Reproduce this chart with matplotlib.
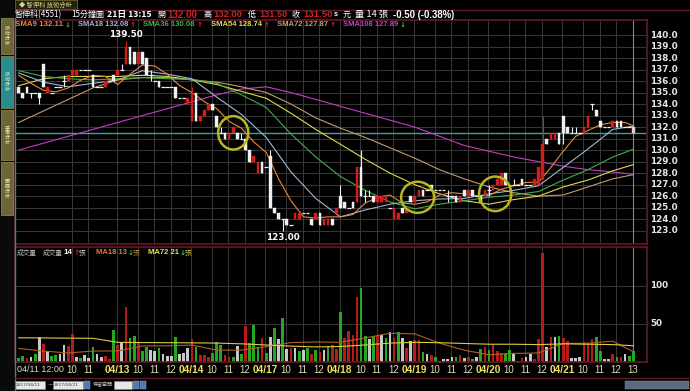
import matplotlib
matplotlib.use("Agg")
import matplotlib.pyplot as plt
from matplotlib.patches import Ellipse, Rectangle
import numpy as np

# ---------------- data ----------------
opens = [135.5,135.0,135.5,135.0,135.0,135.0,137.5,135.0,135.0,135.5,135.5,136.0,136.0,136.5,136.5,137.0,137.0,137.0,136.5,135.5,
         135.5,135.5,136.0,136.5,136.5,137.0,137.5,139.0,138.5,137.5,138.5,138.0,136.5,136.0,136.0,135.5,135.5,135.5,135.5,134.5,
         134.5,134.0,132.5,135.0,132.5,133.0,133.5,134.0,133.0,131.5,131.5,131.0,131.5,131.5,131.0,131.0,130.0,129.0,128.0,129.0,
         128.5,129.5,125.0,124.5,124.0,124.0,123.5,124.0,124.0,124.5,124.5,124.0,124.0,124.5,123.5,123.5,124.0,124.5,126.0,125.5,
         125.0,125.5,125.5,128.5,126.0,126.0,126.0,125.5,125.5,125.5,125.0,124.0,124.0,125.0,124.5,126.0,125.5,126.0,126.5,126.5,
         127.0,126.5,126.5,126.5,126.0,126.0,126.0,125.5,126.5,126.0,126.5,126.0,126.0,126.0,126.5,126.5,127.0,127.0,128.0,127.0,
         127.0,127.0,127.5,127.0,127.0,127.0,127.0,127.5,131.0,131.0,131.0,131.5,133.0,132.0,131.5,131.5,131.5,131.5,132.0,134.0,
         133.5,132.5,132.0,132.0,132.0,132.5,132.5,132.0,132.0,132.0]
highs = [135.5,135.0,135.5,135.0,135.0,135.0,137.5,135.5,135.0,135.5,135.5,136.5,136.5,137.0,137.0,137.0,137.0,137.0,136.5,135.5,
         135.5,136.0,136.0,136.5,137.0,137.5,139.5,139.0,138.5,138.5,138.5,138.0,137.0,136.0,136.0,135.5,135.5,135.5,135.5,134.5,
         134.5,134.5,135.5,135.0,133.0,133.5,134.0,134.0,133.0,132.0,131.5,131.5,132.0,131.5,131.5,131.0,130.0,129.5,129.0,129.0,
         128.5,130.0,125.0,124.5,124.0,124.0,123.5,124.5,124.5,124.5,124.5,124.0,124.5,124.5,124.0,124.0,124.0,125.0,127.0,125.5,
         125.0,125.5,128.5,130.0,126.5,126.5,126.0,126.0,126.0,126.0,125.0,125.0,124.5,125.0,125.0,126.0,126.0,126.5,126.5,126.5,
         127.0,126.5,126.5,126.5,126.5,126.0,126.0,126.0,126.5,126.5,126.5,126.0,126.0,126.5,127.0,127.0,127.5,128.0,128.0,127.0,
         127.5,127.0,127.5,127.0,127.0,127.5,128.5,133.0,131.0,131.5,131.5,131.5,133.0,132.0,132.0,132.0,131.5,132.0,133.0,134.0,
         133.5,132.5,132.0,132.0,132.5,132.5,132.5,132.0,132.0,132.0]
lows = [135.0,134.5,135.0,134.5,135.0,134.0,135.5,135.0,135.0,135.5,135.5,135.5,136.0,136.5,136.5,137.0,137.0,137.0,135.5,135.5,
        135.5,135.5,136.0,136.0,136.5,137.0,137.5,137.5,137.5,137.5,137.5,136.5,136.0,136.0,135.5,135.5,135.5,135.5,134.5,134.5,
        134.5,134.0,132.5,132.5,132.5,133.0,133.5,133.5,132.0,131.5,131.0,131.0,131.5,131.0,131.0,130.0,129.0,129.0,128.0,128.0,
        128.5,125.0,124.5,124.0,123.0,123.5,123.5,124.0,124.0,124.5,124.5,123.5,124.0,123.5,123.5,123.5,123.5,124.5,125.0,125.0,
        125.0,125.0,125.5,126.0,125.5,126.0,125.5,125.5,125.5,125.5,125.0,124.0,124.0,124.5,124.5,125.5,125.5,126.0,126.0,126.5,
        126.5,126.5,126.5,126.5,125.5,126.0,125.5,125.5,126.0,126.0,126.0,126.0,125.5,126.0,126.0,126.5,127.0,127.0,127.0,127.0,
        127.0,127.0,127.0,127.0,127.0,127.0,127.0,127.5,130.5,131.0,131.0,130.5,130.5,131.5,131.5,131.5,131.5,131.5,132.0,133.5,
        133.0,132.0,132.0,132.0,132.0,132.0,132.0,132.0,132.0,131.5]
closes = [135.0,134.5,135.0,135.0,135.0,134.5,135.5,135.5,135.0,135.5,135.5,136.0,136.5,137.0,137.0,137.0,137.0,137.0,135.5,135.5,
          135.5,136.0,136.0,136.0,137.0,137.0,139.0,137.5,137.5,138.5,137.5,136.5,136.5,136.0,135.5,135.5,135.5,135.5,134.5,134.5,
          134.5,134.5,135.0,132.5,133.0,133.5,134.0,133.5,132.0,131.5,131.0,131.5,132.0,131.0,131.0,130.0,129.0,129.5,129.0,128.0,
          128.5,125.0,124.5,124.0,124.0,123.5,123.5,124.5,124.5,124.5,124.5,123.5,124.5,123.5,124.0,124.0,123.5,125.0,125.0,125.0,
          125.0,125.0,128.5,126.0,126.0,126.0,125.5,126.0,126.0,126.0,125.0,125.0,124.5,124.5,125.0,125.5,126.0,126.5,126.0,126.5,
          126.5,126.5,126.5,126.5,126.0,126.0,125.5,126.0,126.0,126.5,126.0,126.0,125.5,126.5,126.5,127.0,127.5,128.0,127.0,127.0,
          127.0,127.0,127.0,127.0,127.0,127.5,128.5,130.5,130.5,131.5,131.5,130.5,131.5,131.5,131.5,131.5,131.5,132.0,133.0,134.0,
          133.0,132.0,132.0,132.0,132.5,132.0,132.0,132.0,132.0,131.5]

volumes = [4.4,7.5,5,6.6,10,32,22.8,14.5,7.5,8.8,10,22,20.6,36,6.6,4.4,8.8,4.4,19.7,10,
           6.6,7.5,3,41.7,22,25.4,72,30.7,33.8,25,14.5,18.9,15.4,14,17.5,10,7.5,7.5,32,10,
           11,18.4,29.8,19.7,8.8,8.8,6.6,11,26.3,22,8.8,6.6,6.6,20.6,10,47,24,47.8,18.9,30.7,
           11,32,45,29.4,57,16.2,17.5,17.5,14,15.4,18.4,10,15.4,13,15.4,19.7,21.5,16.7,65.8,30.7,
           40,35,85.5,96.5,33.8,29.4,33.8,33.8,34.6,31.6,39,31.6,39,30.7,17.5,27.2,28.5,28.5,12.3,10,
           8.8,5.7,1,3.5,3.5,5.7,6.6,8.8,4.4,5.7,3.5,5.7,16.7,18.9,15.4,22.8,14,11.8,11.8,15.4,
           11.8,1,4.4,6.6,10,3.5,29.4,142.5,19.7,33,32,33.8,30.7,27.2,4.4,4.4,6.6,25.4,24,29.4,
           33,14,3.5,3,10,6.6,6.6,10,7.5,14]
vol_colors = list("ggrwgwrwggwwrrwgwwgw"
                  "wrrgrwrggrggwwgwwwgw"
                  "wwrgrrrgggrrgwgrgggr"
                  "gwgwgwrwgwgrgrwgrrgr"
                  "rrrggwgrwgwrgwrwrrgw"
                  "rgwwwwgrwrgwgrgrrrgg"
                  "wwrwwrrrwrwgrrwwwrrr"
                  "ggwwrgrwgg")

sma9_idx = list(range(0, 148, 3)) + [149]
sma9 = [136.5,135.8,135.2,135.06,135.4,136.06,136.5,136.4,135.7,136.6,137.4,137.3,136.6,135.6,135.0,134.2,133.6,132.5,
        131.9,130.7,129.8,127.5,125.6,124.2,124.1,124.2,124.2,124.4,125.4,125.9,126.1,125.4,125.3,125.5,126.1,126.3,
        126.2,126.05,126.05,126.6,126.9,127.2,127.2,128.5,129.9,131.2,131.7,132.2,132.4,132.4,132.11]
ma_idx = list(range(0, 145, 6)) + [149]
sma18 = [136.7,135.9,135.5,135.8,136.1,136.9,136.6,136.2,134.6,133.1,131.1,128.1,125.8,124.2,124.8,125.3,125.6,125.75,
         125.8,126.2,126.5,126.9,128.5,130.1,131.8,132.08]
sma36 = [136.9,136.4,136.2,136.1,136.2,136.3,136.2,136.15,135.8,134.8,133.7,131.4,129.4,127.7,126.5,125.5,124.9,125.3,
         125.6,125.9,126.1,126.4,127.4,128.3,129.4,130.08]
sma54 = [135.6,136.2,136.4,136.4,136.4,136.5,136.4,136.1,135.7,135.1,134.5,133.2,131.8,130.5,129.2,128.0,127.0,126.2,
         125.6,125.3,125.7,126.0,126.8,127.4,128.2,128.74]
sma72 = [132.4,133.4,134.4,135.4,136.1,136.3,136.3,136.1,135.9,135.5,135.0,134.0,132.8,131.9,131.1,130.2,129.3,128.3,
         127.5,126.8,126.3,126.0,126.1,126.8,127.5,127.87]
sma108 = [130.0,130.6,131.2,131.8,132.4,133.0,133.6,134.2,134.8,135.3,135.5,135.0,134.4,133.8,133.2,132.6,132.0,131.2,
          130.4,129.9,129.4,129.0,128.6,128.3,128.1,127.89]
vma18 = [17.5,14,11.5,14,14.2,20.7,20.9,21.9,15.2,15.3,19.7,25.2,26,25.5,31.3,37.5,36.6,24.5,15.1,9.1,10.9,11.5,24,24.3,27,13]
vma72 = [31.5,31.3,31.0,30.8,25.5,25.2,25.0,24.8,24.5,23.5,22,20.5,19.5,20,22,24.5,25.5,25,24,23,23,22.5,23.5,23,22.5,21]

day_starts = [24, 42, 60, 78, 96, 114, 132]
day_labels = ["04/13", "04/14", "04/17", "04/18", "04/19", "04/20", "04/21"]
price_ticks = list(range(123, 141))
last_close = 131.5

# ---------------- style ----------------
BG = "black"
RED = "#d41e1e"
WHITE = "#f0f0f0"
VRED = "#b81a1a"
VGREEN = "#22a822"
VGRAY = "#c8c8c8"
GRID = "#383838"
FRAME = "#5e1c26"
C9, C18, C36, C54, C72, C108 = "#e8893c", "#9cb8d6", "#3fae4a", "#e0d848", "#c49a6c", "#c63cc6"
CJK = ["Noto Sans CJK TC", "DejaVu Sans"]
LAT = ["Liberation Sans", "DejaVu Sans"]

W, H = 690, 391
fig = plt.figure(figsize=(W / 100, H / 100), dpi=100, facecolor=BG)
renderer = fig.canvas.get_renderer()

def fx(px):
    return px / W

def fy(py):
    return 1 - py / H

def fit(px0, px1, py, s, color="white", bold=True, family=LAT, base=7.0, minsize=4.5, maxsize=8.0):
    t = fig.text(fx(px0), fy(py), s, color=color, fontsize=base, va="center", ha="left",
                 fontweight="bold" if bold else "normal", family=family)
    w = t.get_window_extent(renderer).width
    size = base * (px1 - px0) / max(w, 1e-6)
    t.set_fontsize(min(max(size, minsize), maxsize))
    return t

ax_p = fig.add_axes([fx(15), fy(244), fx(647) - fx(15), fy(20) - fy(244)])
ax_v = fig.add_axes([fx(15), fy(362), fx(647) - fx(15), fy(247) - fy(362)])

n = len(closes)
x = np.arange(n)
xlim = (-0.9, 152.3)

for ax in (ax_p, ax_v):
    ax.set_facecolor(BG)
    ax.set_xlim(*xlim)
    for s in ax.spines.values():
        s.set_color(FRAME)
        s.set_linewidth(1.2)
    ax.tick_params(left=False, bottom=False, right=False, top=False,
                   labelleft=False, labelbottom=False)

# x ticks (grid positions)
xt_pos, xt_lab, xt_bold = [-0.3, 12.9, 16.8], ["04/11 12:00", "10", "11"], [False, False, False]
for d, lab in zip(day_starts, day_labels):
    xt_pos += [d - 0.2, d + 4.8, d + 8.8, d + 12.8]
    xt_lab += [lab, "10", "11", "12"]
    xt_bold += [True, False, False, False]
xt_pos.append(148.8); xt_lab.append("13"); xt_bold.append(False)

for ax in (ax_p, ax_v):
    for p in xt_pos[1:]:
        ax.axvline(p, color=GRID, lw=0.7, zorder=0)

# ---------------- price panel ----------------
ax_p.set_ylim(140 - 209 / 11.51, 140 + 15 / 11.51)
for t in price_ticks:
    ax_p.axhline(t, color=GRID, lw=0.7, zorder=0)
    ax_p.text(1.005, t, f"{t:.1f}", transform=ax_p.get_yaxis_transform(),
              color="#e6e6e6", fontsize=6.3, va="center", ha="left", fontweight="bold")

ax_p.axhline(last_close, color="#3d9f9f", lw=1.0, zorder=1)

def ma_line(ax, idx, vals, color):
    ax.plot(idx, vals, color=color, lw=0.8, zorder=2, solid_joinstyle="round")

ma_line(ax_p, ma_idx, sma108, C108)
ma_line(ax_p, ma_idx, sma72, C72)
ma_line(ax_p, ma_idx, sma54, C54)
ma_line(ax_p, ma_idx, sma36, C36)
ma_line(ax_p, ma_idx, sma18, C18)
ma_line(ax_p, sma9_idx, sma9, C9)

bw = 0.66
for i in range(n):
    o, h, l, c = opens[i], highs[i], lows[i], closes[i]
    col = RED if c > o else WHITE
    if i == n - 1:
        col = "#f4caca"
    ax_p.vlines(i, l, h, color=col, lw=0.8, zorder=3)
    if c == o:
        ax_p.hlines(c, i - 0.45, i + 0.45, color=col, lw=0.9, zorder=3)
    else:
        ax_p.add_patch(Rectangle((i - bw / 2, min(o, c)), bw, abs(c - o),
                                 facecolor=col, edgecolor=col, lw=0.3, zorder=4))

ax_p.axvline(n - 1, color="#6f8f8f", lw=0.8, zorder=1)

imax = int(np.argmax(highs)); imin = int(np.argmin(lows))
ax_p.text(imax, highs[imax] + 0.15, f"{highs[imax]:.2f}", color="white", fontsize=6.3,
          ha="center", va="bottom", fontweight="bold", zorder=6)
ax_p.text(imin, lows[imin] - 0.2, f"{lows[imin]:.2f}", color="white", fontsize=6.3,
          ha="center", va="top", fontweight="bold", zorder=6)

for (cx, cy, ew, eh) in [(52.0, 131.5, 7.3, 2.9), (96.7, 125.9, 8.0, 2.7), (115.5, 126.2, 7.8, 3.0)]:
    ax_p.add_patch(Ellipse((cx, cy), ew, eh, fill=False, edgecolor="#b8b61e", lw=1.8, zorder=7))

# ---------------- volume panel ----------------
ax_v.set_ylim(-0.4, 151)
for t in (50, 100):
    ax_v.axhline(t, color=GRID, lw=0.7, zorder=0)
    ax_v.text(1.005, t, str(t), transform=ax_v.get_yaxis_transform(),
              color="#e6e6e6", fontsize=6.3, va="center", ha="left", fontweight="bold")
cmap = {"r": VRED, "g": VGREEN, "w": VGRAY}
ax_v.bar(x, volumes, width=0.66, color=[cmap[c] for c in vol_colors], zorder=2)
ax_v.plot(ma_idx, vma18, color="#b0602a", lw=0.8, zorder=3)
ax_v.plot(ma_idx, vma72, color="#d8cc40", lw=0.8, zorder=3)
ax_v.axvline(n - 1, color="#6f8f8f", lw=0.8, zorder=1)

# x labels
for p, lab, b in zip(xt_pos, xt_lab, xt_bold):
    first = lab.startswith("04/11")
    ax_v.text(p, -0.025, lab, transform=ax_v.get_xaxis_transform(),
              ha="left" if first else "center", va="top",
              color="#f0e060" if b else "#e2dcae", fontsize=6.5 if first else (7.3 if b else 7.0),
              fontweight="bold" if b else "normal", family=LAT)

# ---------------- sidebar / header ----------------
fig.patches.append(Rectangle((0, 0), fx(14), 1, transform=fig.transFigure, facecolor="#0a0a0a", zorder=-1))
fig.add_artist(plt.Line2D([fx(14.5), fx(14.5)], [fy(18), fy(391)], color="#3a8a8a", lw=1.0))
tabs = [(18, 54, "#6b6636", "技術分析"), (56, 108, "#2a8c8c", "技術分析"),
        (110, 160, "#6b6636", "基本分析"), (162, 215, "#6b6636", "籌碼分析")]
for (y0, y1, colr, txt) in tabs:
    fig.patches.append(Rectangle((fx(1), fy(y1)), fx(12), fy(y0) - fy(y1), transform=fig.transFigure,
                                 facecolor=colr, edgecolor="#9a9460", lw=0.5))
    fig.text(fx(7), fy((y0 + y1) / 2), "\n".join(txt), color="#e8e4c0", fontsize=3.6,
             ha="center", va="center", family=CJK, linespacing=1.0)

fig.patches.append(Rectangle((fx(15), fy(9)), fx(62), fy(0) - fy(9), transform=fig.transFigure,
                             facecolor="#22220e", edgecolor="#6b6636", lw=0.6))
fit(19, 72, 4.5, "◆ 智伸科 技術分析", color="#d8d28c", bold=False, family=CJK, minsize=4.0)
fig.add_artist(plt.Line2D([fx(15), fx(690)], [fy(9.5), fy(9.5)], color=FRAME, lw=1.0))

hy = 14.5
fit(15, 58, hy, "智伸科(4551)", bold=False, family=CJK, minsize=5.8)
fit(71, 100, hy, "15分鐘圖", bold=False, family=CJK, minsize=5.8)
fit(107, 152, hy, "21日 13:15", family=CJK, minsize=5.8)
fit(157, 165, hy, "開", bold=False, family=CJK, minsize=5.8)
fit(167, 197, hy, "132.00", color=RED)
fit(203, 210, hy, "高", bold=False, family=CJK, minsize=5.8)
fit(213, 242, hy, "132.00", color=RED)
fit(248, 256, hy, "低", bold=False, family=CJK, minsize=5.8)
fit(259, 287, hy, "131.50", color=RED)
fit(292, 300, hy, "收", bold=False, family=CJK, minsize=5.8)
fit(303, 332, hy, "131.50", color=RED)
fit(334, 338, hy, "s")
fit(343, 350, hy, "元", bold=False, family=CJK, minsize=5.8)
fit(355, 388, hy, "量 14 張", bold=False, family=CJK, minsize=5.8)
fit(393, 455, hy, "-0.50 (-0.38%)")

ly = 25
legend_items = [(15, 63, "SMA9 132.11", C9, "↓", "#2ed02e"), (78, 128, "SMA18 132.08", C18, "↑", "#e02020"),
                (143, 195, "SMA36 130.08", C36, "↑", "#e02020"), (211, 262, "SMA54 128.74", C54, "↑", "#e02020"),
                (277, 328, "SMA72 127.87", C72, "↑", "#e02020"), (343, 398, "SMA108 127.89", C108, "↓", "#2ed02e")]
for px0, px1, s, c, arr, ac in legend_items:
    fit(px0, px1, ly, s, color=c)
    fig.text(fx(px1 + 1.5), fy(ly), arr, color=ac, fontsize=5.2, va="center", ha="left", fontweight="bold")

vy = 252.7
fit(17, 33, vy, "成交量", color="#bdbdbd", bold=False, family=CJK, minsize=4.8)
fit(43, 59, vy, "成交量", color="#bdbdbd", bold=False, family=CJK, minsize=4.8)
fit(63, 72, vy, "14", color="white")
fig.text(fx(74), fy(vy), "↑", color="#e02020", fontsize=5.2, va="center", fontweight="bold")
fit(79, 85, vy, "張", color="#bdbdbd", bold=False, family=CJK, minsize=4.8)
fit(96, 127, vy, "MA18 13", color="#e07a30")
fig.text(fx(128), fy(vy), "↓", color="#2ed02e", fontsize=5.2, va="center", fontweight="bold")
fit(133, 139, vy, "張", color="#c07a40", bold=False, family=CJK, minsize=4.8)
fit(148, 179, vy, "MA72 21", color="#e8e040")
fig.text(fx(180), fy(vy), "↓", color="#2ed02e", fontsize=5.2, va="center", fontweight="bold")
fit(185, 191, vy, "張", color="#c0b840", bold=False, family=CJK, minsize=4.8)

# bottom strip
fig.add_artist(plt.Line2D([fx(15), fx(690)], [fy(378), fy(378)], color=FRAME, lw=1.0))
for (x0, x1) in [(15, 45), (53, 83), (114, 132)]:
    fig.patches.append(Rectangle((fx(x0), fy(389)), fx(x1 - x0), fy(381) - fy(389), transform=fig.transFigure,
                                 facecolor="#e8e8e8", edgecolor="#888888", lw=0.4))
fig.text(fx(16), fy(385), "2017/04/11", color="#333333", fontsize=3.2, va="center")
fig.text(fx(54), fy(385), "2017/04/21", color="#333333", fontsize=3.2, va="center")
fig.text(fx(47), fy(385), "~", color="#cccccc", fontsize=4.5, va="center")
fig.text(fx(93), fy(385), "保留空間", color="#cccccc", fontsize=3.6, va="center", family=CJK)
for x0 in (84, 133, 140):
    fig.patches.append(Rectangle((fx(x0), fy(389)), fx(6), fy(381) - fy(389), transform=fig.transFigure,
                                 facecolor="#4a7ab8", edgecolor="#aaaaaa", lw=0.3))
fig.patches.append(Rectangle((fx(625), fy(389)), fx(64), fy(381) - fy(389), transform=fig.transFigure,
                             facecolor="#5a6a80", edgecolor="#999999", lw=0.3))

fig.savefig("out.png", dpi=100, facecolor=BG)
